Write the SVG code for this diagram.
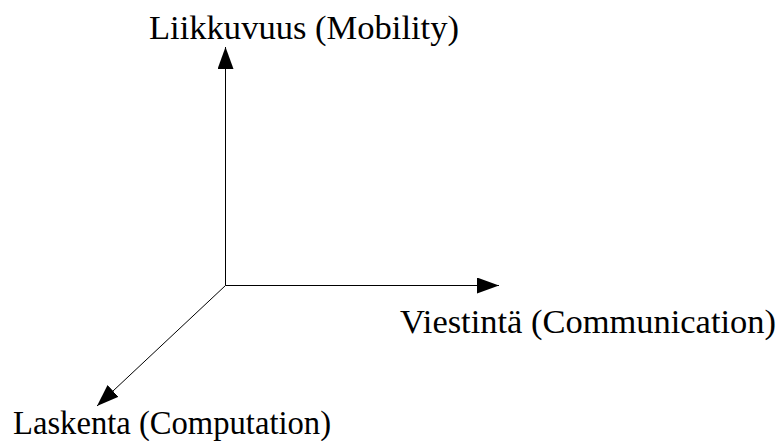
<svg xmlns="http://www.w3.org/2000/svg" width="780" height="441" viewBox="0 0 780 441">
  <style>
    .label { font-family: "Liberation Serif", "Times New Roman", Times, "DejaVu Serif", serif; font-size: 34px; fill: #000; }
    .axis { stroke: #000; stroke-width: 1; fill: none; }
  </style>
  <defs>
    <marker id="head" viewBox="0 0 22 16" refX="22" refY="8" markerWidth="22" markerHeight="16" markerUnits="userSpaceOnUse" orient="auto">
      <path d="M0,0 L22,8 L0,16 Z" fill="#000"/>
    </marker>
  </defs>
  <rect width="780" height="441" fill="#fff"/>
  <g id="axes">
    <line class="axis" x1="225.5" y1="285.5" x2="225.5" y2="47" marker-end="url(#head)"/>
    <line class="axis" x1="225.5" y1="285.5" x2="499" y2="285.5" marker-end="url(#head)"/>
    <line class="axis" x1="225.5" y1="285.5" x2="97" y2="406" marker-end="url(#head)"/>
  </g>
  <g id="mobility">
    <text class="label" x="149" y="39" textLength="310" lengthAdjust="spacingAndGlyphs">Liikkuvuus (Mobility)</text>
  </g>
  <g id="communication">
    <text class="label" x="400" y="333" textLength="376" lengthAdjust="spacingAndGlyphs">Viestintä (Communication)</text>
  </g>
  <g id="computation">
    <text class="label" x="13" y="434" textLength="318" lengthAdjust="spacingAndGlyphs">Laskenta (Computation)</text>
  </g>
</svg>
